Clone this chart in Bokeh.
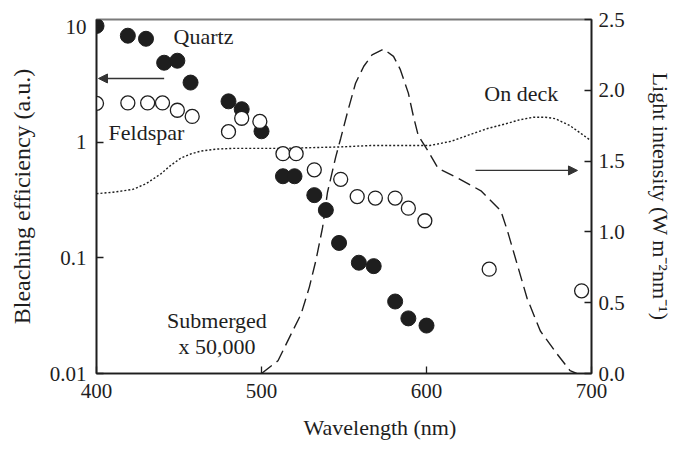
from bokeh.plotting import figure
from bokeh.models import (Range1d, LinearAxis, LinearScale, FixedTicker,
                          CustomJSTickFormatter, Arrow, NormalHead, Title)
from bokeh.embed import file_html
from bokeh.resources import INLINE
from bokeh.core.properties import value

# ---- data -------------------------------------------------------------
# Bleaching efficiency of quartz (filled) and feldspar (open), a.u.
quartz_wl = [400, 419, 430, 441, 449, 457, 480, 488, 500, 513, 520, 532, 539,
             547, 559, 568, 581, 589, 600]
quartz_eff = [10.2, 8.4, 7.9, 4.9, 5.1, 3.3, 2.27, 1.94, 1.25, 0.51, 0.51, 0.35,
              0.26, 0.135, 0.091, 0.085, 0.042, 0.030, 0.026]

feldspar_wl = [400, 419, 431, 440, 449, 458, 480, 488, 499, 513, 521, 532, 548,
               558, 569, 581, 589, 599, 638, 694]
feldspar_eff = [2.18, 2.2, 2.2, 2.2, 1.90, 1.68, 1.24, 1.62, 1.52, 0.80, 0.80,
                0.58, 0.48, 0.34, 0.33, 0.33, 0.27, 0.21, 0.080, 0.052]

# Daylight spectrum on deck (W m-2 nm-1)
deck_wl = [400, 410, 422, 430, 439, 445, 451, 457, 463, 473, 483, 500, 513, 530,
           548, 566, 585, 602, 615, 627, 637, 647, 656, 665, 672, 678, 687, 693, 699]
deck_int = [1.27, 1.28, 1.30, 1.34, 1.41, 1.47, 1.52, 1.55, 1.57, 1.585, 1.59,
            1.59, 1.59, 1.595, 1.60, 1.61, 1.61, 1.61, 1.64, 1.69, 1.73, 1.76,
            1.79, 1.81, 1.81, 1.80, 1.75, 1.70, 1.65]

# Submerged spectrum, scaled x 50,000
sub_wl = [500, 510, 518, 524, 529, 533, 537, 540, 545, 548, 552, 557, 562, 567,
          574, 580, 584, 589, 592, 595, 601, 607, 619, 633, 645, 649, 655, 661,
          669, 679, 687, 691]
sub_int = [0.0, 0.09, 0.28, 0.42, 0.61, 0.80, 1.03, 1.28, 1.53, 1.66, 1.84, 2.05,
           2.17, 2.25, 2.29, 2.24, 2.15, 1.98, 1.82, 1.68, 1.57, 1.45, 1.38, 1.29,
           1.15, 1.01, 0.77, 0.53, 0.30, 0.14, 0.02, 0.0]

x_ticks = [400, 500, 600, 700]
eff_ticks = [0.01, 0.1, 1, 10]
int_ticks = [0.0, 0.5, 1.0, 1.5, 2.0, 2.5]

# ---- styling ----------------------------------------------------------
FONT = "Liberation Serif"
INK = "#1e1e1e"
TICK_SIZE = "21px"
TEXT_SIZE = "22px"

p = figure(width=677, height=452,
           x_range=Range1d(400, 700), y_range=Range1d(0.01, 11.6),
           y_axis_type="log", output_backend="svg", toolbar_location=None,
           min_border_left=96, min_border_right=86,
           min_border_top=19, min_border_bottom=79)
p.extra_y_ranges = {"light": Range1d(0, 2.5)}
p.extra_y_scales = {"light": LinearScale()}
p.background_fill_color = "white"
p.border_fill_color = "white"
p.outline_line_color = "#7a7a7a"
p.outline_line_width = 2
p.grid.visible = False

right_axis = LinearAxis(y_range_name="light")
p.add_layout(right_axis, "right")

p.xaxis.ticker = FixedTicker(ticks=x_ticks)
p.yaxis[0].ticker = FixedTicker(ticks=eff_ticks)
p.yaxis[0].formatter = CustomJSTickFormatter(code="return String(tick)")
right_axis.ticker = FixedTicker(ticks=int_ticks)
right_axis.formatter = CustomJSTickFormatter(code="return tick.toFixed(1)")

for ax in [p.xaxis[0], p.yaxis[0], right_axis]:
    ax.axis_line_color = INK
    ax.axis_line_width = 1.6
    ax.major_tick_line_color = INK
    ax.major_tick_line_width = 1.3
    ax.major_tick_in = 7
    ax.major_tick_out = 0
    ax.minor_tick_line_color = None
    ax.major_label_text_font = FONT
    ax.major_label_text_font_size = TICK_SIZE
    ax.major_label_text_color = INK
    ax.axis_label_text_font = FONT
    ax.axis_label_text_font_style = "normal"
    ax.axis_label_text_color = INK
p.xaxis[0].major_label_standoff = 10
p.yaxis[0].major_label_standoff = 10
right_axis.major_label_standoff = 7

# y-axis titles
p.yaxis[0].axis_label = "Bleaching efficiency (a.u.)"
p.yaxis[0].axis_label_text_font_size = "24px"
p.yaxis[0].axis_label_standoff = 12
right_axis.axis_label = "Light intensity (W m\u207b\u00b2nm\u207b\u00b9)"
right_axis.axis_label_text_font_size = "22px"
right_axis.axis_label_standoff = 20

# x-axis title, set slightly right of the frame centre
p.add_layout(Title(text="Wavelength (nm)", align="left", offset=207,
                   standoff=25, text_font=FONT, text_font_size=TEXT_SIZE,
                   text_font_style="normal", text_color=INK), "below")

# ---- spectra ----------------------------------------------------------
p.line(deck_wl, deck_int, y_range_name="light", line_color=INK,
       line_width=1.4, line_dash="2 2")
p.line(sub_wl, sub_int, y_range_name="light", line_color=INK,
       line_width=1.4, line_dash="13 6")

# ---- bleaching efficiency points --------------------------------------
p.scatter(quartz_wl, quartz_eff, size=15, fill_color=INK, line_color=INK)
p.scatter(feldspar_wl, feldspar_eff, size=14, fill_color="white",
          line_color=INK, line_width=1.3)

# ---- arrows pointing to the relevant axis -----------------------------
p.add_layout(Arrow(x_start=441, y_start=3.58, x_end=401.2, y_end=3.58,
                   line_color="#333333", line_width=1.3,
                   end=NormalHead(size=9, fill_color="#333333",
                                  line_color="#333333")))
p.add_layout(Arrow(x_start=629.7, y_start=1.434, x_end=691.5, y_end=1.434,
                   y_range_name="light", line_color="#333333", line_width=1.3,
                   end=NormalHead(size=9, fill_color="#333333",
                                  line_color="#333333")))

# ---- in-plot labels ---------------------------------------------------
def note(x, y, txt, align="left", rng="default"):
    kw = dict(text=[txt], text_align=align, text_baseline="middle",
              text_font=value(FONT), text_font_size=value(TEXT_SIZE),
              text_color=INK)
    if rng != "default":
        kw["y_range_name"] = rng
    p.text(x=[x], y=[y], **kw)

note(446.7, 8.28, "Quartz")
note(407.3, 1.22, "Feldspar")
note(635.0, 1.98, "On deck", rng="light")
note(473.0, 0.374, "Submerged", align="center", rng="light")
note(473.0, 0.19, "x 50,000", align="center", rng="light")

open("out.html", "w").write(file_html(p, INLINE))
